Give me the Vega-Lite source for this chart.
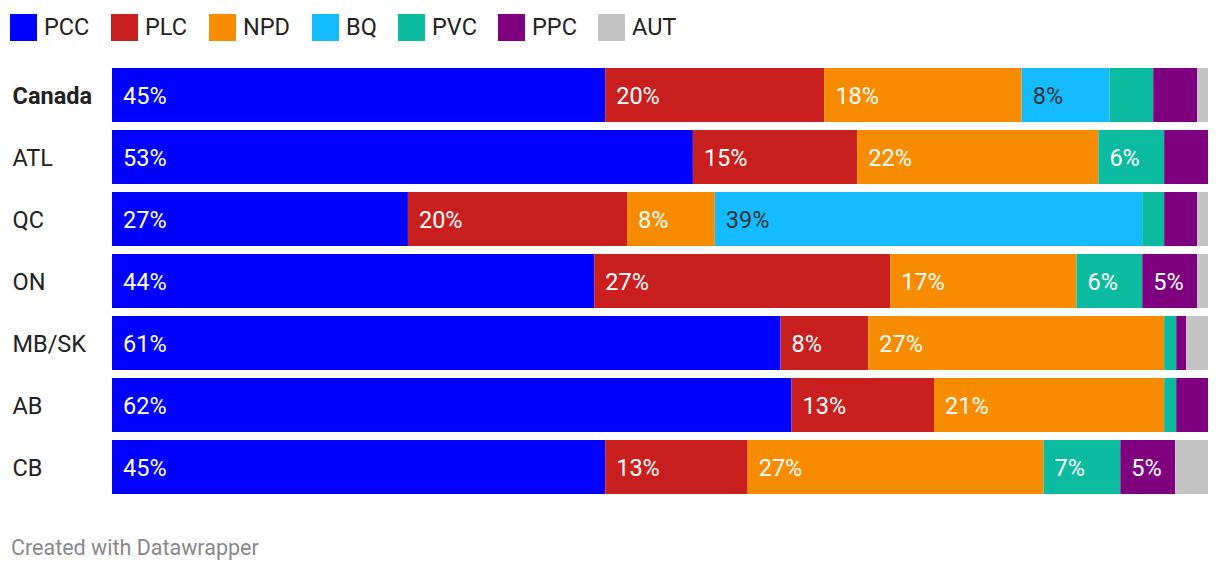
{
  "$schema": "https://vega.github.io/schema/vega-lite/v6.json",
  "width": 1096,
  "height": 434,
  "autosize": {"type": "none"},
  "padding": {"left": 112, "top": 64, "right": 12, "bottom": 74},
  "background": "white",
  "config": {"view": {"stroke": null}, "font": "Roboto"},
  "title": {
    "text": "Created with Datawrapper",
    "orient": "bottom",
    "anchor": "start",
    "frame": "group",
    "dx": -101,
    "offset": 40,
    "fontSize": 21.5,
    "fontWeight": "normal",
    "color": "#888888",
    "font": "Roboto"
  },
  "data": {
    "values": [
      {"region": "Canada", "party": "PCC", "v": 45},
      {"region": "Canada", "party": "PLC", "v": 20},
      {"region": "Canada", "party": "NPD", "v": 18},
      {"region": "Canada", "party": "BQ", "v": 8},
      {"region": "Canada", "party": "PVC", "v": 4},
      {"region": "Canada", "party": "PPC", "v": 4},
      {"region": "Canada", "party": "AUT", "v": 1},
      {"region": "ATL", "party": "PCC", "v": 53},
      {"region": "ATL", "party": "PLC", "v": 15},
      {"region": "ATL", "party": "NPD", "v": 22},
      {"region": "ATL", "party": "BQ", "v": 0},
      {"region": "ATL", "party": "PVC", "v": 6},
      {"region": "ATL", "party": "PPC", "v": 4},
      {"region": "ATL", "party": "AUT", "v": 0},
      {"region": "QC", "party": "PCC", "v": 27},
      {"region": "QC", "party": "PLC", "v": 20},
      {"region": "QC", "party": "NPD", "v": 8},
      {"region": "QC", "party": "BQ", "v": 39},
      {"region": "QC", "party": "PVC", "v": 2},
      {"region": "QC", "party": "PPC", "v": 3},
      {"region": "QC", "party": "AUT", "v": 1},
      {"region": "ON", "party": "PCC", "v": 44},
      {"region": "ON", "party": "PLC", "v": 27},
      {"region": "ON", "party": "NPD", "v": 17},
      {"region": "ON", "party": "BQ", "v": 0},
      {"region": "ON", "party": "PVC", "v": 6},
      {"region": "ON", "party": "PPC", "v": 5},
      {"region": "ON", "party": "AUT", "v": 1},
      {"region": "MB/SK", "party": "PCC", "v": 61},
      {"region": "MB/SK", "party": "PLC", "v": 8},
      {"region": "MB/SK", "party": "NPD", "v": 27},
      {"region": "MB/SK", "party": "BQ", "v": 0},
      {"region": "MB/SK", "party": "PVC", "v": 1.1},
      {"region": "MB/SK", "party": "PPC", "v": 0.9},
      {"region": "MB/SK", "party": "AUT", "v": 2},
      {"region": "AB", "party": "PCC", "v": 62},
      {"region": "AB", "party": "PLC", "v": 13},
      {"region": "AB", "party": "NPD", "v": 21},
      {"region": "AB", "party": "BQ", "v": 0},
      {"region": "AB", "party": "PVC", "v": 1.1},
      {"region": "AB", "party": "PPC", "v": 2.9},
      {"region": "AB", "party": "AUT", "v": 0},
      {"region": "CB", "party": "PCC", "v": 45},
      {"region": "CB", "party": "PLC", "v": 13},
      {"region": "CB", "party": "NPD", "v": 27},
      {"region": "CB", "party": "BQ", "v": 0},
      {"region": "CB", "party": "PVC", "v": 7},
      {"region": "CB", "party": "PPC", "v": 5},
      {"region": "CB", "party": "AUT", "v": 3}
    ]
  },
  "transform": [
    {"calculate": "indexof(['PCC','PLC','NPD','BQ','PVC','PPC','AUT'], datum.party)", "as": "o"},
    {"stack": "v", "groupby": ["region"], "sort": [{"field": "o", "order": "ascending"}], "offset": "normalize", "as": ["v0", "v1"]},
    {"calculate": "format(datum.v, '.0f') + '%'", "as": "label"}
  ],
  "encoding": {
    "y": {
      "field": "region",
      "type": "nominal",
      "sort": ["Canada", "ATL", "QC", "ON", "MB/SK", "AB", "CB"],
      "scale": {"paddingInner": 0.129, "paddingOuter": 0.0645},
      "axis": {
        "title": null,
        "domain": false,
        "ticks": false,
        "labelAlign": "left",
        "labelPadding": 100,
        "labelOffset": 2,
        "labelFontSize": 23.5,
        "labelFont": "Roboto",
        "labelColor": "#222222",
        "labelFontWeight": {"condition": {"test": "datum.value == 'Canada'", "value": "bold"}, "value": "normal"}
      }
    }
  },
  "layer": [
    {
      "mark": {"type": "bar"},
      "encoding": {
        "x": {"field": "v0", "type": "quantitative", "scale": {"domain": [0, 1], "nice": false}, "axis": null},
        "x2": {"field": "v1"},
        "color": {
          "field": "party",
          "type": "nominal",
          "scale": {
            "domain": ["PCC", "PLC", "NPD", "BQ", "PVC", "PPC", "AUT"],
            "range": ["#0000ff", "#c91f1f", "#f88c00", "#14bbff", "#0abba0", "#7f007f", "#c4c4c4"]
          },
          "legend": {
            "title": null,
            "orient": "none",
            "direction": "horizontal",
            "legendX": -102,
            "legendY": -50,
            "symbolType": "square",
            "symbolSize": 729,
            "symbolStrokeWidth": 0,
            "symbolOpacity": 1,
            "labelFontSize": 23.5,
            "labelFont": "Roboto",
            "labelColor": "#222222",
            "labelOffset": 7,
            "columnPadding": 21,
            "symbolOffset": 0
          }
        }
      }
    },
    {
      "transform": [{"filter": "datum.v >= 5"}],
      "mark": {"type": "text", "align": "left", "baseline": "middle", "dx": 11, "dy": 1.5, "fontSize": 23.5, "font": "Roboto"},
      "encoding": {
        "x": {"field": "v0", "type": "quantitative"},
        "text": {"field": "label", "type": "nominal"},
        "color": {"condition": {"test": "datum.party == 'BQ'", "value": "#333333"}, "value": "#ffffff"}
      }
    }
  ]
}
